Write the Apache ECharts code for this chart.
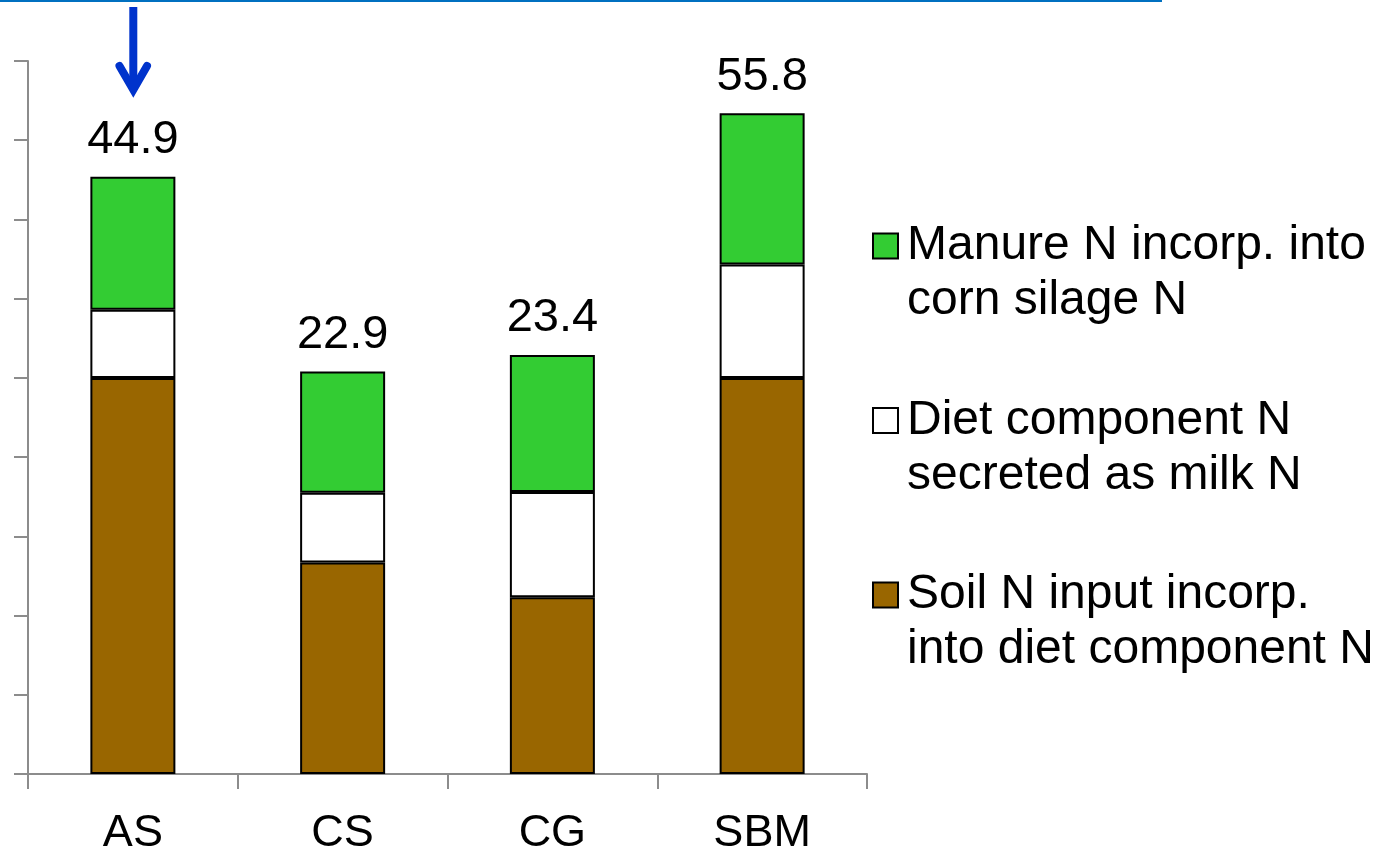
<!DOCTYPE html>
<html>
<head>
<meta charset="utf-8">
<title>N flow by diet component</title>
<script src="https://cdn.jsdelivr.net/npm/echarts@6/dist/echarts.min.js"></script>
<style>
  html, body { margin: 0; padding: 0; background: #fff; }
  #chart { width: 1380px; height: 851px; }
</style>
</head>
<body>
<div id="chart"></div>
<script>
// Diet components
const categories = ['AS', 'CS', 'CG', 'SBM'];

// Stacked segments (bottom to top)
const soilN   = [50.0, 26.7, 22.3, 50.0];
const dietN   = [8.6, 8.8, 13.3, 14.3];
const manureN = [16.8, 15.3, 17.3, 19.1];

// Totals printed above each stack
const totals = [44.9, 22.9, 23.4, 55.8];

const seriesNames = [
  'Soil N input incorp.\ninto diet component N',
  'Diet component N\nsecreted as milk N',
  'Manure N incorp. into\ncorn silage N'
];

const FONT = "'Liberation Sans', Arial, sans-serif";
const chart = echarts.init(document.getElementById('chart'), null, { renderer: 'canvas' });

const barStyle = (color) => ({ color: color, borderColor: '#000', borderWidth: 2 });

chart.setOption({
  animation: false,
  backgroundColor: '#fff',
  grid: {
    left: 28, top: 61, width: 839, height: 713,
    containLabel: false,
    outerBoundsMode: 'none'
  },
  xAxis: {
    type: 'category',
    data: categories,
    axisLine: { show: true, lineStyle: { color: '#8c8c8c', width: 2 } },
    axisTick: { show: true, length: 15, lineStyle: { color: '#8c8c8c', width: 2 } },
    axisLabel: { color: '#000', fontSize: 45, fontFamily: FONT, margin: 37 }
  },
  yAxis: {
    type: 'value',
    min: 0,
    max: 90,
    interval: 10,
    axisLine: { show: true, lineStyle: { color: '#8c8c8c', width: 2 } },
    axisTick: { show: true, length: 14, lineStyle: { color: '#8c8c8c', width: 2 } },
    axisLabel: { show: false },
    splitLine: { show: false }
  },
  legend: {
    orient: 'vertical',
    left: 867,
    top: 158.5,
    icon: 'rect',
    itemWidth: 25,
    itemHeight: 25,
    itemGap: 9.5,
    data: [seriesNames[2], seriesNames[1], seriesNames[0]],
    selectedMode: false,
    // a leading blank line keeps the swatch level with the first text line
    formatter: (name) => '\n' + name,
    textStyle: {
      color: '#000',
      fontSize: 48,
      fontFamily: FONT,
      lineHeight: 55,
      padding: [0, 0, 0, 4]
    }
  },
  series: [
    {
      name: seriesNames[0], type: 'bar', stack: 'n', barWidth: 85,
      itemStyle: barStyle('#996600'), data: soilN
    },
    {
      name: seriesNames[1], type: 'bar', stack: 'n', barWidth: 85,
      itemStyle: barStyle('#ffffff'), data: dietN
    },
    {
      name: seriesNames[2], type: 'bar', stack: 'n', barWidth: 85,
      itemStyle: barStyle('#33cc33'), data: manureN,
      label: {
        show: true,
        position: 'top',
        distance: 13,
        color: '#000',
        fontSize: 47,
        fontFamily: FONT,
        formatter: (p) => totals[p.dataIndex].toFixed(1)
      }
    }
  ],
  graphic: [
    {
      type: 'line',
      shape: { x1: 0, y1: 1, x2: 1162, y2: 1 },
      style: { stroke: '#0070c0', lineWidth: 2 }
    },
    {
      type: 'line',
      shape: { x1: 133.3, y1: 7, x2: 133.3, y2: 90 },
      style: { stroke: '#0033cc', lineWidth: 8 }
    },
    {
      type: 'polyline',
      shape: { points: [[119.5, 66], [133.3, 89.7], [147, 66]] },
      style: { stroke: '#0033cc', lineWidth: 8, lineCap: 'round', lineJoin: 'miter', fill: null }
    }
  ]
});
</script>
</body>
</html>
